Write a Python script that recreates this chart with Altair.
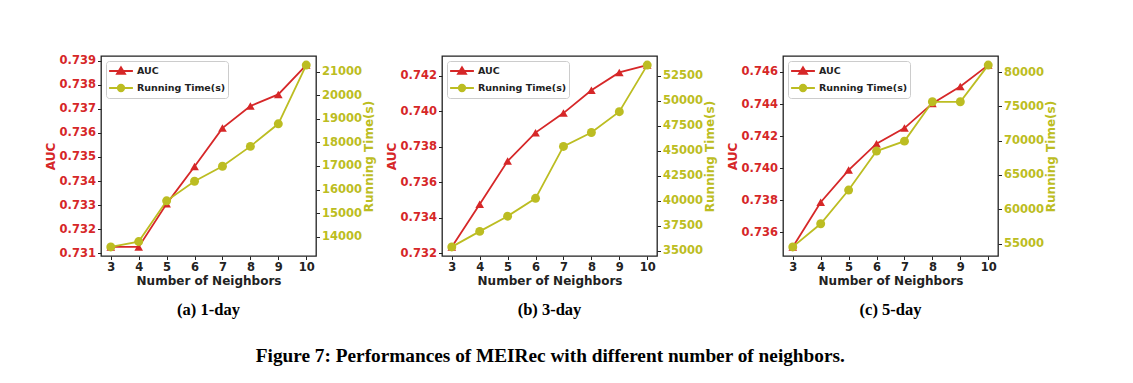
import altair as alt
import pandas as pd

RED = "#d62728"
OLIVE = "#bcbd22"
DARK = "#222222"

neighbors = [3, 4, 5, 6, 7, 8, 9, 10]

auc_1day = [0.73126, 0.73126, 0.73305, 0.73460, 0.73620, 0.73712, 0.73760, 0.73882]
rt_1day = [13563, 13790, 15521, 16352, 16986, 17831, 18789, 21282]

auc_3day = [0.73237, 0.73477, 0.73720, 0.73880, 0.73990, 0.74118, 0.74219, 0.74260]
rt_3day = [35365, 36922, 38447, 40237, 45440, 46832, 48920, 53593]

auc_5day = [0.73509, 0.73788, 0.73988, 0.74153, 0.74250, 0.74404, 0.74509, 0.74643]
rt_5day = [54518, 57890, 62803, 68487, 69932, 75665, 75665, 81012]

auc_ticks_1 = [0.731, 0.732, 0.733, 0.734, 0.735, 0.736, 0.737, 0.738, 0.739]
rt_ticks_1 = [14000, 15000, 16000, 17000, 18000, 19000, 20000, 21000]
auc_ticks_3 = [0.732, 0.734, 0.736, 0.738, 0.740, 0.742]
rt_ticks_3 = [35000, 37500, 40000, 42500, 45000, 47500, 50000, 52500]
auc_ticks_5 = [0.736, 0.738, 0.740, 0.742, 0.744, 0.746]
rt_ticks_5 = [55000, 60000, 65000, 70000, 75000, 80000]

panel_titles = ["(a) 1-day", "(b) 3-day", "(c) 5-day"]
series_names = ["AUC", "Running Time(s)"]
figure_caption = "Figure 7: Performances of MEIRec with different number of neighbors."

TRI_PATH = "M-1.7,0H1.7M0,-0.5L0.55,0.4L-0.55,0.4Z"
CIRC_PATH = "M-1.7,0H1.7M0.45,0A0.45,0.45 0 1,1 -0.45,0A0.45,0.45 0 1,1 0.45,0Z"


def padded(vals, frac=0.05):
    lo, hi = min(vals), max(vals)
    m = (hi - lo) * frac
    return [lo - m, hi + m]


def make_legend():
    return alt.Legend(
        orient="top-left", offset=5, title=None, fillColor="white",
        strokeColor="#cccccc", cornerRadius=3, padding=2,
        labelFont="DejaVu Sans", labelFontWeight="bold", labelFontSize=9.5,
        labelColor=DARK, symbolSize=196, symbolStrokeWidth=2, symbolOpacity=1,
        symbolOffset=5, labelOffset=8, rowPadding=2,
    )


def panel(auc, rt, auc_ticks, rt_ticks, title):
    df = pd.DataFrame({"k": neighbors, "auc": auc, "rt": rt})
    base = alt.Chart(df).encode(
        x=alt.X("k:Q", scale=alt.Scale(domain=padded(neighbors), nice=False, zero=False),
                axis=alt.Axis(values=neighbors, title="Number of Neighbors", format="d",
                              labelColor=DARK, titleColor=DARK, labelAngle=0,
                              titlePadding=2))
    )
    a = base.encode(
        y=alt.Y("auc:Q", scale=alt.Scale(domain=padded(auc), nice=False, zero=False),
                axis=alt.Axis(orient="left", values=auc_ticks, format=".3f", title="AUC",
                              labelColor=RED, titleColor=RED, titlePadding=2))
    )
    r = base.encode(
        y=alt.Y("rt:Q", scale=alt.Scale(domain=padded(rt), nice=False, zero=False),
                axis=alt.Axis(orient="right", values=rt_ticks, format="d",
                              title="Running Time(s)", labelColor=OLIVE, titleColor=OLIVE,
                              titleAngle=270, titlePadding=14))
    )
    leg_df = pd.DataFrame({"series": series_names})
    legend_layer = alt.Chart(leg_df).transform_filter("false").mark_point(
        filled=True, opacity=1, strokeWidth=2
    ).encode(
        fill=alt.Fill("series:N", scale=alt.Scale(domain=series_names, range=[RED, OLIVE]),
                      legend=make_legend()),
        stroke=alt.Stroke("series:N", scale=alt.Scale(domain=series_names, range=[RED, OLIVE]),
                          legend=make_legend()),
        shape=alt.Shape("series:N", scale=alt.Scale(domain=series_names, range=[TRI_PATH, CIRC_PATH]),
                        legend=make_legend()),
    )
    auc_layer = alt.layer(
        a.mark_line(color=RED, strokeWidth=1.8),
        a.mark_point(shape="triangle-up", filled=True, color=RED, size=75, opacity=1),
        legend_layer,
    )
    rt_layer = alt.layer(
        r.mark_line(color=OLIVE, strokeWidth=1.8),
        r.mark_point(shape="circle", filled=True, color=OLIVE, size=80, opacity=1),
    )
    return alt.layer(auc_layer, rt_layer).resolve_scale(y="independent").properties(
        width=215, height=200,
        title=alt.TitleParams(title, orient="bottom", frame="group", anchor="middle",
                              font="Liberation Serif", fontSize=16.5, fontWeight="bold",
                              color="black", offset=16),
    )


p1 = panel(auc_1day, rt_1day, auc_ticks_1, rt_ticks_1, panel_titles[0])
p2 = panel(auc_3day, rt_3day, auc_ticks_3, rt_ticks_3, panel_titles[1])
p3 = panel(auc_5day, rt_5day, auc_ticks_5, rt_ticks_5, panel_titles[2])

chart = alt.hconcat(p1, p2, p3, spacing=8).resolve_scale(
    fill="independent", stroke="independent", shape="independent"
).properties(
    title=alt.TitleParams(figure_caption, orient="bottom", anchor="middle",
                          font="Liberation Serif", fontSize=19.3, fontWeight="bold",
                          color="black", offset=28),
    padding={"left": 35, "top": 46, "right": 5, "bottom": 5},
).configure_view(
    stroke=DARK, strokeWidth=1.3
).configure_axis(
    labelFont="DejaVu Sans", labelFontWeight="bold", labelFontSize=11.5,
    titleFont="DejaVu Sans", titleFontWeight="bold", titleFontSize=12,
    grid=False, domain=False, tickColor=DARK, tickSize=3.5, labelPadding=2,
).configure_legend(
    labelFont="DejaVu Sans", labelFontWeight="bold", labelFontSize=9.5,
)

chart.save("out.html", embed_options={"renderer": "svg", "actions": False})
